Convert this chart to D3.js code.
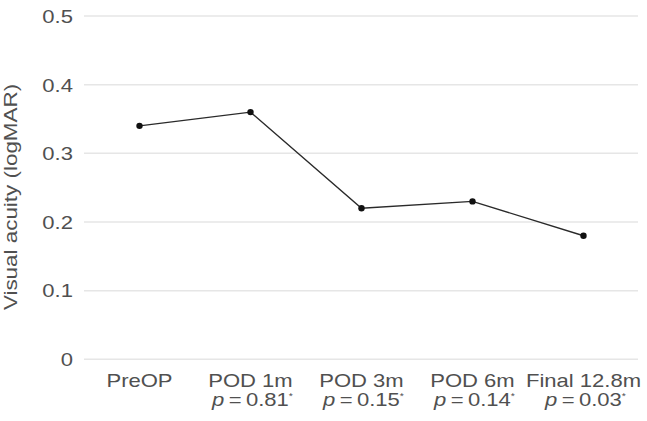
<!DOCTYPE html>
<html><head><meta charset="utf-8">
<script src="https://cdn.jsdelivr.net/npm/d3@7"></script>
<style>
html,body{margin:0;padding:0;background:#fff;}
svg text{font-family:"Liberation Sans",Arial,sans-serif;fill:#505050;}
</style></head>
<body><svg id="c" width="647" height="421"></svg>
<script>
const categories = ["PreOP","POD 1m","POD 3m","POD 6m","Final 12.8m"];
const pValues = [null,"0.81","0.15","0.14","0.03"];
const values = [0.34,0.36,0.22,0.23,0.18];
const yTicks = [0,0.1,0.2,0.3,0.4,0.5];
const yTitle = "Visual acuity (logMAR)";

const svg = d3.select("#c");
const fs = 19, sx = 1.16;
const x = d3.scaleBand().domain(categories).range([84,639]);
const y = d3.scaleLinear().domain([0,0.5]).range([359.3,16]);

// gridlines
svg.append("g").selectAll("line").data(yTicks).join("line")
  .attr("x1",84).attr("x2",638)
  .attr("y1",d=>y(d)).attr("y2",d=>y(d))
  .attr("stroke","#e6e6e6").attr("stroke-width",1.5);

// y axis labels
const yAxis = d3.axisLeft(y).tickValues(yTicks).tickSize(0).tickPadding(0)
  .tickFormat(d=>d===0?"0":d3.format(".1f")(d));
const gy = svg.append("g").attr("transform","translate(73,0)").call(yAxis);
gy.select(".domain").remove();
gy.selectAll(".tick").each(function(d){
  d3.select(this).attr("transform",`translate(0,${y(d)}) scale(${sx},1)`);
});
gy.selectAll("text").attr("font-size",fs).attr("font-family",null).attr("fill",null).attr("dy","0.36em");

// y title
svg.append("text").attr("transform",`translate(16.5,197) rotate(-90) scale(${sx+0.02},1)`)
  .attr("text-anchor","middle").attr("font-size",fs).text(yTitle);

// x labels
const gx = svg.append("g");
categories.forEach((c,i)=>{
  const cx = x(c)+x.bandwidth()/2;
  gx.append("text").attr("transform",`translate(${cx},386.5) scale(${sx},1)`).attr("text-anchor","middle")
    .attr("font-size",fs).text(c);
  if(pValues[i]){
    const t = gx.append("text").attr("transform",`translate(${cx+2},406) scale(${sx},1)`).attr("text-anchor","middle").attr("font-size",fs);
    t.append("tspan").attr("font-style","italic").text("p");
    t.append("tspan").text("\u2009=\u2009"+pValues[i]);
    t.append("tspan").attr("font-size",9).attr("dy",-7).text("*");
  }
});

// line
const line = d3.line().x((d,i)=>x(categories[i])+x.bandwidth()/2).y(d=>y(d));
svg.append("path").datum(values).attr("d",line).attr("fill","none")
  .attr("stroke","#2a2a2a").attr("stroke-width",1.4);
svg.append("g").selectAll("circle").data(values).join("circle")
  .attr("cx",(d,i)=>x(categories[i])+x.bandwidth()/2).attr("cy",d=>y(d))
  .attr("r",3.2).attr("fill","#111");
</script></body></html>
